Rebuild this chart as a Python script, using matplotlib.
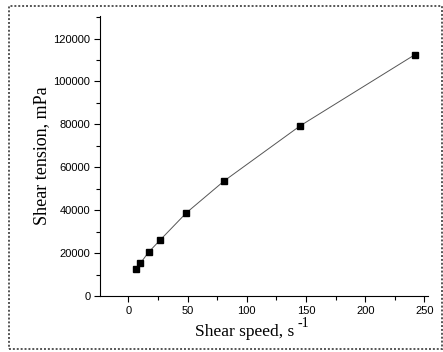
import matplotlib.pyplot as plt
from matplotlib.patches import Rectangle
from matplotlib.ticker import MultipleLocator

shear_speed = [6, 10, 17, 27, 49, 81, 145, 242]
shear_tension = [12400, 15200, 20400, 26200, 38800, 53700, 79300, 112500]
x_ticks = [0, 50, 100, 150, 200, 250]
y_ticks = [0, 20000, 40000, 60000, 80000, 100000, 120000]

W, H = 443, 352
fig = plt.figure(figsize=(W / 100, H / 100), dpi=100)
ax = fig.add_axes([100 / W, 56 / H, 328 / W, 280 / H])

ax.plot(shear_speed, shear_tension, color='#555555', lw=0.7,
        marker='s', ms=4, mfc='black', mec='black')

ax.set_xlim(-24, 253)
ax.set_ylim(0, 130500)
ax.set_xticks(x_ticks)
ax.set_yticks(y_ticks)
ax.xaxis.set_minor_locator(MultipleLocator(25))
ax.yaxis.set_minor_locator(MultipleLocator(10000))
ax.tick_params(which='both', direction='out', width=0.8, labelsize=8,
               labelfontfamily='Liberation Sans', pad=3)
ax.tick_params(which='major', length=4)
ax.tick_params(which='minor', length=3)
for side in ['top', 'right']:
    ax.spines[side].set_visible(False)

# x label and its raised "-1" placed by hand, like the original
fig.text(195 / W, 1 - 336 / H, 'Shear speed, s', family='Liberation Serif',
         fontsize=12.5, ha='left', va='baseline')
fig.text(297 / W, 1 - 327 / H, '-1', family='Liberation Serif',
         fontsize=10, ha='left', va='baseline')
ax.set_ylabel('Shear tension, mPa', family='Liberation Serif', fontsize=13,
              labelpad=2)

fig.patches.append(Rectangle((9 / W, 3 / H), 433 / W, 343 / H,
                             transform=fig.transFigure, fill=False,
                             ec='#555555', lw=1.4, ls=(0, (1, 1))))

fig.savefig('out.png', dpi=100)
